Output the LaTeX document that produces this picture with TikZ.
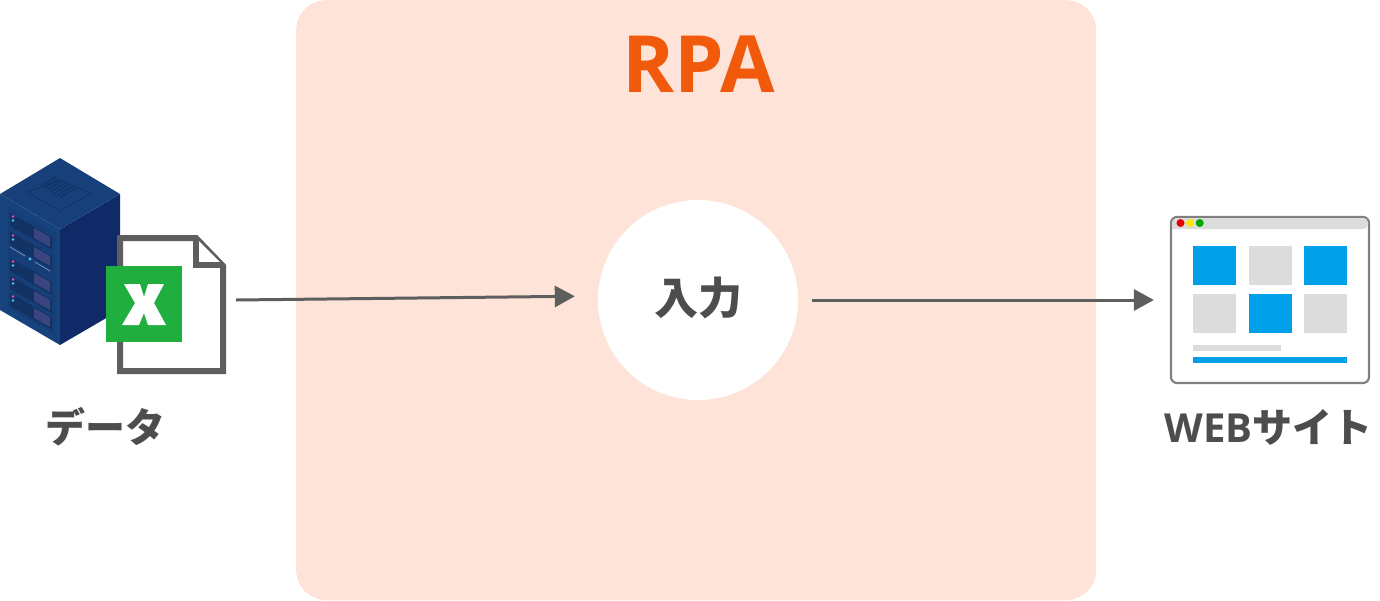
\documentclass[tikz,border=0pt]{standalone}
\usepackage{fontspec}
\setmainfont{Noto Sans CJK JP}
\newfontfamily\latinfont{Open Sans}
\usetikzlibrary{arrows.meta}
\definecolor{panelcol}{HTML}{FEE3D9}
\definecolor{rpacol}{HTML}{F15A0A}
\definecolor{textcol}{HTML}{4D4D4D}
\definecolor{arrowcol}{HTML}{5E5E5E}
\definecolor{sheetblue}{HTML}{00A0E9}
\definecolor{sheetgray}{HTML}{DCDCDC}
\definecolor{xlgreen}{HTML}{20AE3E}
\definecolor{srvtop}{HTML}{17407A}
\definecolor{srvleft}{HTML}{17437C}
\definecolor{srvright}{HTML}{0F2A66}
\definecolor{srvslot}{HTML}{123263}
\definecolor{srvbox}{HTML}{3A4580}
\tikzset{
  label/.style={text=textcol,font=\bfseries\fontsize{40}{40}\selectfont,inner sep=0pt},
  flow/.style={draw=arrowcol,line width=3pt,-{Triangle[length=20pt,width=21pt]}},
  servericon/.pic={
    \fill[srvright] (60,229) -- (120,194) -- (120,310) -- (60,345) -- cycle;
    \fill[srvleft] (0,194) -- (60,229) -- (60,345) -- (0,310) -- cycle;
    \fill[srvtop] (60,158) -- (120,194) -- (60,229) -- (0,194) -- cycle;
    \draw[srvslot,line width=.8pt] (60,180) -- (91,193) -- (60,211) -- (27,192) -- cycle;
    \foreach \i in {0,...,6}
      \draw[srvslot,line width=1.2pt] (56+\i*3.2,177+\i*1.9) -- (41+\i*3.2,186+\i*1.9);
    \fill[srvleft!85!srvright] (7,205) -- (55,233) -- (55,335) -- (7,307) -- cycle;
    \foreach \y in {213,232,258,276,293} {
      \fill[srvslot] (10,\y) -- (52,\y+24) -- (52,\y+37) -- (10,\y+13) -- cycle;
      \fill[srvbox] (34,\y+15) -- (50,\y+24) -- (50,\y+34) -- (34,\y+25) -- cycle;
      \fill[magenta!70!white] (13,\y+3.5) circle (1.4);
      \fill[cyan!70!white] (13,\y+7.5) circle (1.4);
    }
    \fill[cyan!70!white] (30,259) circle (1.7);
    \draw[srvleft!50!white,line width=.6pt] (10,247) -- (25,256);
    \draw[srvleft!50!white,line width=.6pt] (35,262) -- (50,271);
  },
  fileicon/.pic={
    \draw[arrowcol,line width=6pt,fill=white,miter limit=4]
      (120,238) -- (196,238) -- (223,266) -- (223,371) -- (120,371) -- cycle;
    \draw[arrowcol,line width=6pt,fill=white] (196,238) -- (196,265) -- (223,265);
    \fill[xlgreen] (106,266) rectangle (182,342);
    \fill[white] (124,284) -- (140,284) -- (144,297) -- (148,284) -- (164,284)
      -- (154,303) -- (166,325) -- (148,325) -- (144,313) -- (139,325) -- (122,325)
      -- (135,303) -- cycle;
  },
  webicon/.pic={
    \fill[sheetgray,rounded corners=5pt] (1172,229) -- (1172,218) -- (1368,218) -- (1368,229) [sharp corners] -- cycle;
    \fill[red!90!black] (1180.5,223) circle (4);
    \fill[yellow!90!orange] (1190,223) circle (4);
    \fill[green!65!black] (1199.7,223) circle (4);
    \fill[sheetblue] (1193,246) rectangle +(43,39);
    \fill[sheetgray] (1249,246) rectangle +(43,39);
    \fill[sheetblue] (1304,246) rectangle +(43,39);
    \fill[sheetgray] (1193,294) rectangle +(43,39);
    \fill[sheetblue] (1249,294) rectangle +(43,39);
    \fill[sheetgray] (1304,294) rectangle +(43,39);
    \fill[sheetgray] (1193,345) rectangle (1281,351);
    \fill[sheetblue] (1193,357) rectangle (1347,363);
  },
}
\begin{document}
\begin{tikzpicture}[x=1pt,y=-1pt]
\useasboundingbox (0,0) rectangle (1380,600);
% RPA area
\node (rpapanel) [fill=panelcol,rounded corners=30pt,minimum width=800pt,minimum height=600pt,inner sep=0pt,anchor=north west] at (296,0) {};
\node (rpatitle) [text=rpacol,font=\latinfont\bfseries\fontsize{79}{79}\selectfont,inner sep=0pt] at (698.5,64) {RPA};
\node (inputnode) [circle,fill=white,minimum size=200pt,inner sep=0pt] at (698,300) {};
\node (inputtext) [text=textcol,font=\bfseries\fontsize{44}{44}\selectfont,inner sep=0pt] at (698,298) {入力};
% left side
\path pic {servericon} pic {fileicon};
\node (datatext) [label] at (105.5,427) {データ};
% right side
\node (webnode) [draw=gray,line width=2.2pt,rounded corners=6pt,fill=white,minimum width=198pt,minimum height=166pt,inner sep=0pt] at (1270,300) {};
\path pic {webicon};
\node (webtext) [label] at (1268.5,427) {{\latinfont WEB}サイト};
\coordinate (dataout) at (236,300);
\draw[flow,shorten >=23pt] (dataout) -- (inputnode.west |- 0,296);
\draw[flow,shorten <=14pt,shorten >=16pt] (inputnode.east) -- (webnode.west);
\end{tikzpicture}
\end{document}
